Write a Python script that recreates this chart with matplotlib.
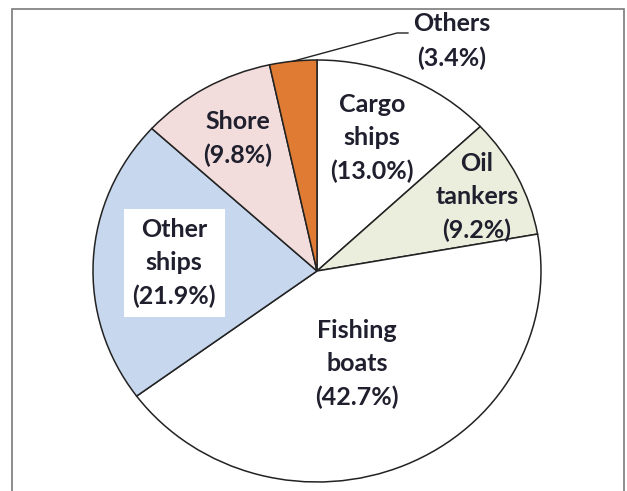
import matplotlib.pyplot as plt
from matplotlib.patches import Rectangle
import numpy as np

# sources, clockwise from 12 o'clock
sources = ['Cargo\nships', 'Oil\ntankers', 'Fishing\nboats', 'Other\nships', 'Shore', 'Others']
shares = [13.0, 9.2, 42.7, 21.9, 9.8, 3.4]
colors = ['#FFFFFF', '#EBEEDD', '#FFFFFF', '#C6D7EE', '#F2DDDC', '#E07B33']

# label centres inside the (stretched) pie, in axes data units
label_xy = [(0.246, 0.630), (0.714, 0.351), (0.179, -0.441),
            (-0.638, 0.038), (-0.353, 0.626), (0.603, 1.090)]

plt.rcParams['font.family'] = ['Lato', 'DejaVu Sans']

fig = plt.figure(figsize=(6.27, 4.91), dpi=100)
fig.add_artist(Rectangle((12 / 627, -0.01), 612 / 627, 1 - 9 / 491 + 0.01,
                         transform=fig.transFigure, fill=False,
                         edgecolor='#7a7a7a', linewidth=1.2))

ax = fig.add_axes([93 / 627, 9 / 491, 448 / 627, 422 / 491])
wedges, _ = ax.pie(shares, colors=colors, startangle=90, counterclock=False,
                   wedgeprops=dict(edgecolor='#222222', linewidth=1.1, clip_on=False))
ax.set_aspect('auto')
ax.set_xlim(-1, 1)
ax.set_ylim(-1, 1)
ax.axis('off')

for name, val, (x, y) in zip(sources, shares, label_xy):
    txt = f'{name}\n({val:.1f}%)'
    kw = {}
    if name.startswith('Other\n'):
        kw['bbox'] = dict(boxstyle='square,pad=0.35', facecolor='white', edgecolor='none')
    ax.text(x, y, txt, ha='center', va='center', fontsize=18, fontweight='bold',
            color='#1f1f2e', linespacing=1.55, clip_on=False, **kw)

# leader line for the small slice
w = wedges[-1]
mid = np.deg2rad((w.theta1 + w.theta2) / 2)
ax.plot([np.cos(mid), 0.357, 0.406], [np.sin(mid), 1.128, 1.128],
        color='#222222', linewidth=1.0, clip_on=False)

fig.savefig('out.png', dpi=100)
